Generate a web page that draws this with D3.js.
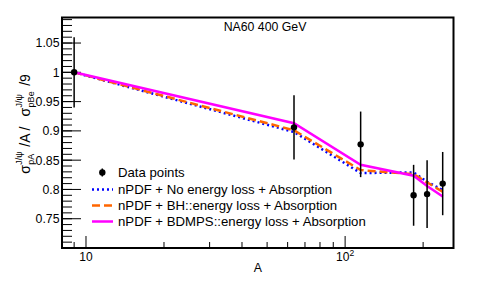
<!DOCTYPE html>
<html>
<head>
<meta charset="utf-8">
<script src="https://cdn.jsdelivr.net/npm/d3@7"></script>
<style>
  body { margin: 0; background: #fff; }
  text { font-family: "Liberation Sans", Arial, sans-serif; fill: #000; }
</style>
</head>
<body>
<div id="chart"></div>
<script>
// NA60 pA J/psi suppression vs A
var nuclei = ["Be", "Cu", "In", "W", "Pb", "U"];
var massA = [9, 63.5, 114.8, 183.8, 207.2, 238.0];
var dataVal = [1.0, 0.906, 0.877, 0.790, 0.792, 0.810];
var dataErr = [0.060, 0.055, 0.056, 0.052, 0.058, 0.054];

var noEloss = [1.0, 0.898, 0.828, 0.829, 0.813, 0.799];
var bhEloss = [1.0, 0.901, 0.833, 0.826, 0.812, 0.796];
var bdmpsEloss = [1.0, 0.913, 0.842, 0.8235, 0.806, 0.788];

var yMajor = [0.75, 0.8, 0.85, 0.9, 0.95, 1.0, 1.05];
var yMajorLabels = ["0.75", "0.8", "0.85", "0.9", "0.95", "1", "1.05"];
var xMajor = [10, 100];
var xMinor = [9, 20, 30, 40, 50, 60, 70, 80, 90, 200];

var legendLabels = [
    "Data points",
    "nPDF + No energy loss + Absorption",
    "nPDF + BH::energy loss + Absorption",
    "nPDF + BDMPS::energy loss + Absorption"
];

var W = 488, H = 288;
var frame = { left: 62, right: 453.5, top: 17.5, bottom: 248 };

var svg = d3.select("#chart").append("svg")
    .attr("width", W)
    .attr("height", H);

var x = d3.scaleLog()
    .domain([8.08, 262])
    .range([frame.left, frame.right]);

var y = d3.scaleLinear()
    .domain([0.7, 1.0936])
    .range([frame.bottom, frame.top]);

// y axis ticks (drawn by hand, ROOT style: long majors, short minors)
var yMinor = d3.range(70, 110).map(function (d) { return d / 100; });
svg.append("g").selectAll("line")
    .data(yMinor).enter().append("line")
    .attr("x1", frame.left).attr("x2", frame.left + 10)
    .attr("y1", function (d) { return y(d); })
    .attr("y2", function (d) { return y(d); })
    .attr("stroke", "#000").attr("stroke-width", 1);
svg.append("g").selectAll("line")
    .data(yMajor).enter().append("line")
    .attr("x1", frame.left).attr("x2", frame.left + 19)
    .attr("y1", function (d) { return y(d); })
    .attr("y2", function (d) { return y(d); })
    .attr("stroke", "#000").attr("stroke-width", 1);
svg.append("g").selectAll("text")
    .data(yMajor).enter().append("text")
    .attr("x", frame.left - 2.5)
    .attr("y", function (d) { return y(d); })
    .attr("dy", "0.36em")
    .attr("text-anchor", "end")
    .style("font-size", "12.3px")
    .text(function (d, i) { return yMajorLabels[i]; });

// x axis ticks
svg.append("g").selectAll("line")
    .data(xMinor).enter().append("line")
    .attr("x1", function (d) { return x(d); })
    .attr("x2", function (d) { return x(d); })
    .attr("y1", frame.bottom).attr("y2", frame.bottom - 6)
    .attr("stroke", "#000").attr("stroke-width", 1);
svg.append("g").selectAll("line")
    .data(xMajor).enter().append("line")
    .attr("x1", function (d) { return x(d); })
    .attr("x2", function (d) { return x(d); })
    .attr("y1", frame.bottom).attr("y2", frame.bottom - 12)
    .attr("stroke", "#000").attr("stroke-width", 1);

var xl = svg.append("g").selectAll("text")
    .data(xMajor).enter().append("text")
    .attr("x", function (d) { return x(d); })
    .attr("y", 261)
    .attr("text-anchor", "middle")
    .style("font-size", "12px");
xl.append("tspan").text("10");
xl.filter(function (d) { return d === 100; }).append("tspan")
    .attr("dy", -5).style("font-size", "8.5px").text("2");

// axis titles
svg.append("text")
    .attr("x", (frame.left + frame.right) / 2)
    .attr("y", 272)
    .attr("text-anchor", "middle")
    .style("font-size", "12.3px")
    .text("A");

var yt = svg.append("g");
var cursor = 0;
function mainPart(s, gap) {
    var t = yt.append("text").attr("x", cursor).attr("y", 0)
        .style("font-size", "14px").text(s);
    cursor += t.node().getComputedTextLength() + (gap || 0);
}
function stacked(sup, sub, gap) {
    var a = yt.append("text").attr("x", cursor + 0.5).attr("y", -8)
        .style("font-size", "9px").text(sup);
    var b = yt.append("text").attr("x", cursor + 0.5).attr("y", 4)
        .style("font-size", "9px").text(sub);
    cursor += Math.max(a.node().getComputedTextLength(), b.node().getComputedTextLength()) + 1 + (gap || 0);
}
mainPart("\u03c3");
stacked("J/\u03c8", "pA", 4);
mainPart("/A /", 10);
mainPart("\u03c3");
stacked("J/\u03c8", "pBe", 5);
mainPart("/9");
yt.attr("transform", "translate(29.5," + (124 + cursor / 2) + ") rotate(-90)");

// title
svg.append("text")
    .attr("x", 265)
    .attr("y", 31)
    .attr("text-anchor", "middle")
    .style("font-size", "12.3px")
    .text("NA60 400 GeV");

// model curves
var models = [
    { vals: noEloss, color: "#0000ff", dash: "2,3" },
    { vals: bhEloss, color: "#ff6600", dash: "8,4" },
    { vals: bdmpsEloss, color: "#ff00ff", dash: null }
];
var line = d3.line()
    .x(function (d) { return x(d[0]); })
    .y(function (d) { return y(d[1]); });

models.forEach(function (m) {
    svg.append("path")
        .datum(massA.map(function (a, i) { return [a, m.vals[i]]; }))
        .attr("d", line)
        .attr("fill", "none")
        .attr("stroke", m.color)
        .attr("stroke-width", 2.5)
        .attr("stroke-dasharray", m.dash);
});

// data points with error bars
var pts = svg.append("g").selectAll("g")
    .data(massA).enter().append("g");
pts.append("line")
    .attr("x1", function (d) { return x(d); })
    .attr("x2", function (d) { return x(d); })
    .attr("y1", function (d, i) { return y(dataVal[i] + dataErr[i]); })
    .attr("y2", function (d, i) { return y(dataVal[i] - dataErr[i]); })
    .attr("stroke", "#000").attr("stroke-width", 1.5);
pts.append("circle")
    .attr("cx", function (d) { return x(d); })
    .attr("cy", function (d, i) { return y(dataVal[i]); })
    .attr("r", 3.2)
    .attr("fill", "#000");

// frame
svg.append("rect")
    .attr("x", frame.left).attr("y", frame.top)
    .attr("width", frame.right - frame.left)
    .attr("height", frame.bottom - frame.top)
    .attr("fill", "none")
    .attr("stroke", "#000")
    .attr("stroke-width", 2);

// legend
var leg = svg.append("g");
var rowY = [172.5, 189.5, 205.5, 221.5];
leg.append("line")
    .attr("x1", 102.3).attr("x2", 102.3)
    .attr("y1", rowY[0] - 4).attr("y2", rowY[0] + 4)
    .attr("stroke", "#000").attr("stroke-width", 1.5);
leg.append("circle")
    .attr("cx", 102.3).attr("cy", rowY[0]).attr("r", 3.2).attr("fill", "#000");
models.forEach(function (m, i) {
    leg.append("line")
        .attr("x1", 92).attr("x2", 113)
        .attr("y1", rowY[i + 1]).attr("y2", rowY[i + 1])
        .attr("stroke", m.color)
        .attr("stroke-width", 2.5)
        .attr("stroke-dasharray", m.dash);
});
leg.selectAll("text")
    .data(legendLabels).enter().append("text")
    .attr("x", 118)
    .attr("y", function (d, i) { return rowY[i]; })
    .attr("dy", "0.36em")
    .style("font-size", "13.2px")
    .text(function (d) { return d; });
</script>
</body>
</html>
